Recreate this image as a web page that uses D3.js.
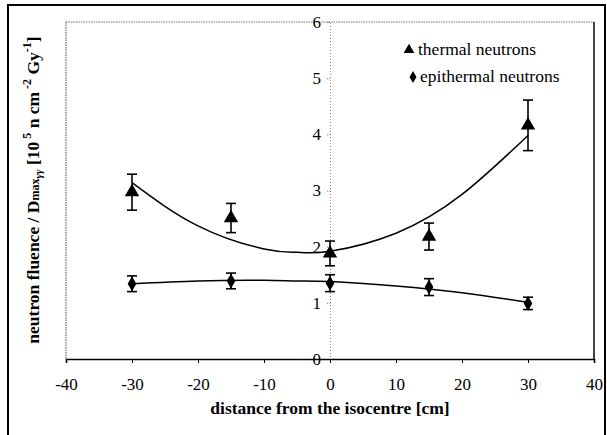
<!DOCTYPE html>
<html>
<head>
<meta charset="utf-8">
<script src="https://cdn.jsdelivr.net/npm/d3@7"></script>
<style>
  html, body { margin: 0; padding: 0; background: #fff; }
  svg { display: block; }
  svg text { font-family: "Liberation Serif", "Times New Roman", Times, Tinos, "DejaVu Serif", "Noto Serif", serif !important; fill: #000; }
</style>
</head>
<body>
<svg id="chart" width="607" height="435"></svg>
<script>
// ---- data ----
const positions = [-30, -15, 0, 15, 30];               // distance from isocentre [cm]
const thermalValues = [2.97, 2.51, 1.88, 2.18, 4.16];
const thermalErrors = [0.32, 0.26, 0.22, 0.24, 0.45];
const epithermalValues = [1.34, 1.39, 1.35, 1.28, 0.99];
const epithermalErrors = [0.14, 0.14, 0.15, 0.15, 0.11];
// trend lines
const trendX = [-30, -20, -10, -5, 0, 10, 20, 30];
const thermalTrend = [3.14, 2.37, 1.96, 1.90, 1.92, 2.24, 2.93, 3.98];
const epithermalTrend = [1.34, 1.39, 1.40, 1.39, 1.38, 1.30, 1.18, 1.01];
const xTicks = [-40, -30, -20, -10, 0, 10, 20, 30, 40];
const yTicks = [0, 1, 2, 3, 4, 5, 6];
const legendLabels = ["thermal neutrons", "epithermal neutrons"];

const FONT = '"Liberation Serif", "Times New Roman", Times, Tinos, "DejaVu Serif", "Noto Serif", serif';
const svg = d3.select("#chart").attr("font-family", FONT);

// outer frame
svg.append("rect").attr("x", 8).attr("y", 5).attr("width", 597).attr("height", 445)
  .attr("fill", "none").attr("stroke", "#000").attr("stroke-width", 2);

const x = d3.scaleLinear().domain([-40, 40]).range([66, 594]);
const y = d3.scaleLinear().domain([0, 6]).range([359, 22]);

// plot area border
const g = svg.append("g");
g.append("line").attr("x1", x(-40)).attr("x2", x(-40)).attr("y1", y(6)).attr("y2", y(0))
  .attr("stroke", "#666").attr("stroke-width", 1.2).attr("stroke-dasharray", "1.5,1");
g.append("line").attr("x1", x(-40)).attr("x2", x(40)).attr("y1", y(6)).attr("y2", y(6))
  .attr("stroke", "#777").attr("stroke-width", 1.2).attr("stroke-dasharray", "1.5,1");
g.append("line").attr("x1", x(40)).attr("x2", x(40)).attr("y1", y(6)).attr("y2", y(0))
  .attr("stroke", "#444").attr("stroke-width", 2);

// y axis (dotted, at x = 0)
const yAxis = d3.axisLeft(y).tickValues(yTicks).tickSize(3).tickPadding(6).tickFormat(d => String(d));
const yg = svg.append("g").attr("transform", `translate(${x(0)},0)`).call(yAxis).attr("font-family", FONT);
yg.select(".domain").attr("stroke", "#888").attr("stroke-dasharray", "1,2");
yg.selectAll(".tick line").attr("stroke", "#888").attr("stroke-dasharray", "1,1");
yg.selectAll(".tick text").attr("font-size", 17);

// x axis (solid, at y = 0)
const xAxis = d3.axisBottom(x).tickValues(xTicks).tickSize(4).tickPadding(15).tickFormat(d => String(d));
const xg = svg.append("g").attr("transform", `translate(0,${y(0)})`).call(xAxis).attr("font-family", FONT);
xg.select(".domain").attr("stroke", "#000").attr("stroke-width", 1.6);
xg.selectAll(".tick line").attr("stroke", "#000");
xg.selectAll(".tick text").attr("font-size", 17);

// trend lines
const line = d3.line().x((d, i) => x(trendX[i])).y(d => y(d)).curve(d3.curveNatural);
svg.append("path").attr("d", line(thermalTrend)).attr("fill", "none").attr("stroke", "#000").attr("stroke-width", 1.5);
svg.append("path").attr("d", line(epithermalTrend)).attr("fill", "none").attr("stroke", "#000").attr("stroke-width", 1.5);

// error bars
function errorBars(values, errors) {
  const eg = svg.append("g").attr("stroke", "#000").attr("stroke-width", 1.6);
  values.forEach((v, i) => {
    const cx = x(positions[i]);
    eg.append("line").attr("x1", cx).attr("x2", cx).attr("y1", y(v + errors[i])).attr("y2", y(v - errors[i]));
    eg.append("line").attr("x1", cx - 5).attr("x2", cx + 5).attr("y1", y(v + errors[i])).attr("y2", y(v + errors[i]));
    eg.append("line").attr("x1", cx - 5).attr("x2", cx + 5).attr("y1", y(v - errors[i])).attr("y2", y(v - errors[i]));
  });
}
errorBars(thermalValues, thermalErrors);
errorBars(epithermalValues, epithermalErrors);

const triangle = d3.symbol().type(d3.symbolTriangle).size(90);
const diamond = d3.symbol().type(d3.symbolDiamond).size(65);

svg.append("g").selectAll("path").data(thermalValues).join("path")
  .attr("d", triangle).attr("transform", (d, i) => `translate(${x(positions[i])},${y(d)})`).attr("fill", "#000");
svg.append("g").selectAll("path").data(epithermalValues).join("path")
  .attr("d", diamond).attr("transform", (d, i) => `translate(${x(positions[i])},${y(d)})`).attr("fill", "#000");

// legend
const lg = svg.append("g");
lg.append("path").attr("d", d3.symbol().type(d3.symbolTriangle).size(50)).attr("transform", "translate(409,50)").attr("fill", "#000");
lg.append("text").attr("x", 418).attr("y", 55).attr("font-size", 17.5).text(legendLabels[0]);
lg.append("path").attr("d", d3.symbol().type(d3.symbolDiamond).size(42)).attr("transform", "translate(413,77)").attr("fill", "#000");
lg.append("text").attr("x", 420).attr("y", 82).attr("font-size", 17.5).text(legendLabels[1]);

// x axis title
svg.append("text").attr("x", x(0)).attr("y", 414).attr("text-anchor", "middle")
  .attr("font-size", 17.5).attr("font-weight", "bold").text("distance from the isocentre [cm]");

// y axis title
const yt = svg.append("text").attr("transform", "translate(39,190) rotate(-90)")
  .attr("text-anchor", "middle").attr("font-size", 17.5).attr("font-weight", "bold");
yt.append("tspan").text("neutron fluence / D");
yt.append("tspan").attr("font-size", 12).text("max");
yt.append("tspan").attr("font-size", 11).attr("font-style", "italic").attr("dy", 3).text("γγ");
yt.append("tspan").attr("dy", -3).text(" [10");
yt.append("tspan").attr("font-size", 12).attr("dy", -8).text(" 5");
yt.append("tspan").attr("dy", 8).text(" n cm");
yt.append("tspan").attr("font-size", 12).attr("dy", -8).text(" -2");
yt.append("tspan").attr("dy", 8).text(" Gy");
yt.append("tspan").attr("font-size", 12).attr("dy", -8).text("-1");
yt.append("tspan").attr("dy", 8).text("]");
</script>
</body>
</html>
